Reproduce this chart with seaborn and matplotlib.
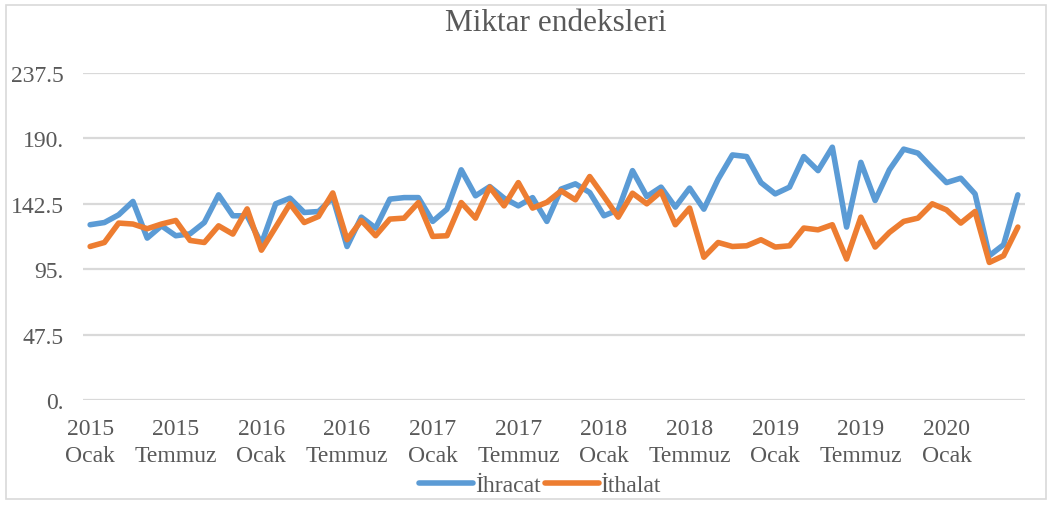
import matplotlib
matplotlib.use("Agg")
import matplotlib.pyplot as plt
import pandas as pd
import seaborn as sns
from matplotlib.patches import Rectangle

# monthly quantity indices, Jan 2015 - Jun 2020
ihracat = [
    127.3, 128.9, 134.5, 144.2, 117.6, 126.5, 119.3, 120.7, 128.9, 149.0,
    133.8, 133.8, 113.5, 142.5, 146.6, 136.2, 136.9, 147.0, 111.5, 132.8,
    124.9, 145.9, 147.0, 147.0, 129.7, 138.6, 167.2, 148.3, 155.0, 146.6,
    141.0, 147.0, 129.7, 153.2, 157.0, 150.7, 133.8, 138.1, 166.6, 147.8,
    154.6, 140.1, 153.9, 138.6, 160.4, 178.0, 176.8, 157.9, 149.7, 154.6,
    176.8, 166.6, 183.6, 125.6, 172.6, 144.9, 167.2, 182.2, 179.3, 168.4,
    157.9, 161.1, 149.7, 104.8, 112.8, 149.0,
]
ithalat = [
    111.5, 114.4, 128.5, 127.8, 124.4, 127.8, 130.4, 115.9, 114.4, 126.5,
    120.5, 138.8, 108.8, 125.5, 142.5, 128.9, 133.3, 150.4, 116.4, 130.4,
    119.3, 131.4, 132.1, 143.4, 118.8, 119.3, 143.4, 132.1, 154.6, 141.0,
    157.9, 139.4, 143.6, 151.9, 145.4, 162.3, 147.8, 132.8, 150.2, 142.5,
    151.4, 127.3, 139.4, 103.7, 114.4, 111.5, 112.0, 116.4, 111.1, 112.0,
    124.9, 123.6, 127.3, 102.4, 132.8, 111.1, 121.7, 129.7, 132.1, 142.5,
    138.1, 128.5, 136.9, 99.9, 104.8, 125.6,
]
tick_labels = [
    "2015\nOcak", "2015\nTemmuz", "2016\nOcak", "2016\nTemmuz",
    "2017\nOcak", "2017\nTemmuz", "2018\nOcak", "2018\nTemmuz",
    "2019\nOcak", "2019\nTemmuz", "2020\nOcak",
]
y_ticks = [0, 47.5, 95, 142.5, 190, 237.5]
y_tick_labels = ["0.", "47.5", "95.", "142.5", "190.", "237.5"]
series_names = ["İhracat", "İthalat"]
colors = ["#5B9BD5", "#ED7D31"]
text_color = "#595959"
grid_color = "#D9D9D9"

df = pd.DataFrame({
    "ay": list(range(len(ihracat))) * 2,
    "deger": ihracat + ithalat,
    "seri": [series_names[0]] * len(ihracat) + [series_names[1]] * len(ithalat),
})

sns.set_theme(style="white")
plt.rcParams["font.family"] = ["Liberation Serif", "DejaVu Serif"]

fig = plt.figure(figsize=(10.51, 5.06), dpi=100)
ax = fig.add_axes([83 / 1051, 1 - 401 / 506, (1025 - 83) / 1051, (401 - 74) / 506])

sns.lineplot(data=df, x="ay", y="deger", hue="seri", palette=colors,
             linewidth=4.0, ax=ax, legend=False)

ax.set_xlim(-0.5, len(ihracat) - 0.5)
ax.set_ylim(0, 237.5)
ax.set_yticks(y_ticks)
ax.set_yticklabels(y_tick_labels)
ax.set_xticks(list(range(0, len(ihracat), 6)))
ax.set_xticklabels(tick_labels, linespacing=1.4)
ax.tick_params(axis="both", length=0, labelsize=17, colors=text_color)
ax.tick_params(axis="y", pad=14)
ax.tick_params(axis="x", pad=13)
ax.yaxis.grid(True, color=grid_color, linewidth=1.6)
ax.set_axisbelow(True)
for s in ax.spines.values():
    s.set_visible(False)
ax.set_xlabel("")
ax.set_ylabel("")

fig.text(556 / 1051, 1 - 24 / 506, "Miktar endeksleri", ha="center", va="center",
         fontsize=22.5, color=text_color)

handles = [plt.Line2D([], [], color=c, linewidth=4.0, solid_capstyle="round") for c in colors]
fig.legend(handles, series_names, loc="center", bbox_to_anchor=(540 / 1051, 1 - 486 / 506),
           ncol=2, frameon=False, fontsize=17, handlelength=2.3, handletextpad=0.05,
           columnspacing=0.2, labelcolor=text_color, borderpad=0)

fig.patches.append(Rectangle((6 / 1051, 6 / 506), 1040 / 1051, 494 / 506,
                             transform=fig.transFigure, fill=False,
                             edgecolor=grid_color, linewidth=1.2))

fig.savefig("out.png", dpi=100)
